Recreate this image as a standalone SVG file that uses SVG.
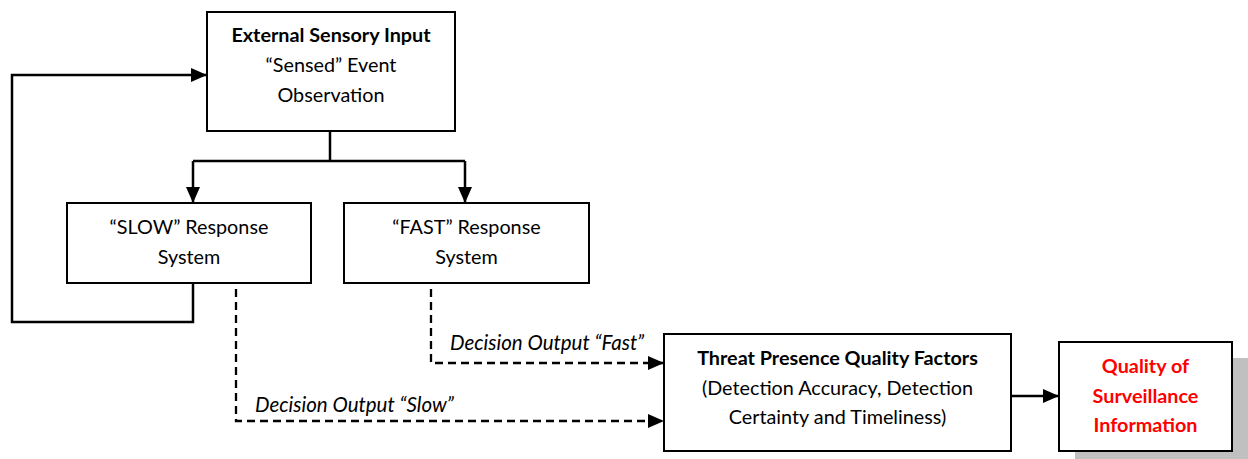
<svg xmlns="http://www.w3.org/2000/svg" width="1248" height="459" viewBox="0 0 1248 459">
<style>
.box{fill:#fff;stroke:#000;stroke-width:2}
.t{font-family:Lato,"Open Sans","Liberation Sans",sans-serif;font-size:19.8px;fill:#000;text-anchor:middle}
.b{font-weight:bold}
.red{fill:#ff0000;font-weight:bold}
.lbl{font-family:Lato,"Open Sans","Liberation Sans",sans-serif;font-size:20.5px;font-style:italic;fill:#000}
.c{fill:none;stroke:#000;stroke-width:2.5}
.d{fill:none;stroke:#000;stroke-width:2.3;stroke-dasharray:8 5}
</style>
<defs>
<marker id="ah" markerUnits="userSpaceOnUse" viewBox="0 0 16 14" markerWidth="16" markerHeight="14" refX="16" refY="7" orient="auto">
<path d="M0,0 L16,7 L0,14 z" fill="#000"/>
</marker>
</defs>
<g id="connectors">
<path class="c" d="M193,283 V322 H12 V75 H207" marker-end="url(#ah)"/>
<path class="c" d="M330,131 V161"/>
<path class="c" d="M193,161 H465"/>
<path class="c" d="M193,161 V203" marker-end="url(#ah)"/>
<path class="c" d="M465,161 V203" marker-end="url(#ah)"/>
<path class="d" d="M236,289 V421 H664" marker-end="url(#ah)"/>
<path class="d" d="M431,289 V363 H664" marker-end="url(#ah)"/>
<path class="c" d="M1011,396 H1059" marker-end="url(#ah)"/>
<text class="lbl" x="450" y="350">Decision Output “Fast”</text>
<text class="lbl" x="255" y="412">Decision Output “Slow”</text>
</g>
<g id="external">
<rect class="box" x="207" y="12" width="248" height="119"/>
<text class="t b" x="331" y="42">External Sensory Input</text>
<text class="t" x="331" y="72">“Sensed” Event</text>
<text class="t" x="331" y="102">Observation</text>
</g>
<g id="slow">
<rect class="box" x="67" y="203" width="244" height="80"/>
<text class="t" x="189" y="234">“SLOW” Response</text>
<text class="t" x="189" y="264">System</text>
</g>
<g id="fast">
<rect class="box" x="344" y="203" width="245" height="80"/>
<text class="t" x="466.5" y="234">“FAST” Response</text>
<text class="t" x="466.5" y="264">System</text>
</g>
<g id="threat">
<rect class="box" x="664" y="334" width="347" height="117"/>
<text class="t b" x="837.5" y="365">Threat Presence Quality Factors</text>
<text class="t" x="837.5" y="395">(Detection Accuracy, Detection</text>
<text class="t" x="837.5" y="424">Certainty and Timeliness)</text>
</g>
<g id="quality">
<rect x="1075" y="358" width="173" height="101" fill="#c0c0c0"/>
<rect class="box" x="1059" y="342" width="173" height="109"/>
<text class="t red" x="1145.5" y="373">Quality of</text>
<text class="t red" x="1145.5" y="403">Surveillance</text>
<text class="t red" x="1145.5" y="432">Information</text>
</g>
</svg>
